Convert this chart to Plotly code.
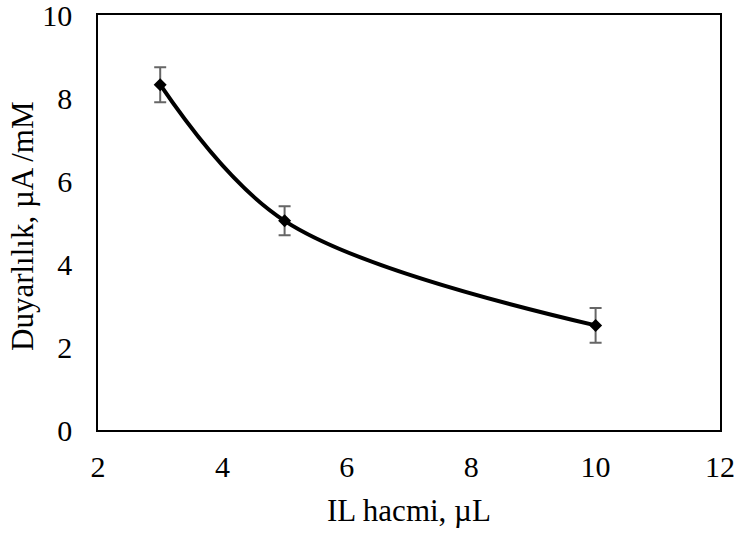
import plotly.graph_objects as go

x_vals = [3, 5, 10]
y_vals = [8.32, 5.04, 2.52]
y_err = [0.42, 0.35, 0.42]
x_ticks = [2, 4, 6, 8, 10, 12]
y_ticks = [0, 2, 4, 6, 8, 10]
x_title = "IL hacmi, µL"
y_title = "Duyarlılık, µA /mM"

font_family = "Liberation Serif"

fig = go.Figure()
fig.add_trace(go.Scatter(
    x=x_vals, y=y_vals,
    mode="lines+markers",
    line=dict(color="black", width=4, shape="spline", smoothing=1.0),
    marker=dict(symbol="diamond", size=10, color="black"),
    error_y=dict(type="data", array=y_err, visible=True, color="#666666", thickness=2, width=6),
    showlegend=False,
))

fig.update_layout(
    width=736, height=537,
    margin=dict(l=98, r=16, t=15, b=107, autoexpand=False),
    paper_bgcolor="white", plot_bgcolor="white",
    font=dict(family=font_family, color="black", size=30),
    annotations=[
        dict(text=x_title, xref="paper", yref="paper", x=0.5, y=0, xanchor="center", yanchor="top",
             yshift=-61, showarrow=False, font=dict(family=font_family, size=31, color="black")),
        dict(text=y_title, xref="paper", yref="paper", x=0, y=0.5, xanchor="right", yanchor="middle",
             xshift=-56, yshift=-4, textangle=-90, showarrow=False,
             font=dict(family=font_family, size=31, color="black")),
    ],
)
fig.update_xaxes(
    range=[2, 12], tickvals=x_ticks, ticks="", showgrid=False, zeroline=False,
    showline=True, linecolor="black", linewidth=1.5, mirror=True, automargin=False,
    tickfont=dict(family=font_family, size=30, color="black"), ticklabelstandoff=9,
    ticklabeloverflow="allow",
)
fig.update_yaxes(
    range=[0, 10], tickvals=y_ticks, ticks="", showgrid=False, zeroline=False,
    showline=True, linecolor="black", linewidth=1.5, mirror=True, automargin=False,
    tickfont=dict(family=font_family, size=30, color="black"), ticklabelstandoff=18,
    ticklabeloverflow="allow",
)
fig.write_html("out.html")
